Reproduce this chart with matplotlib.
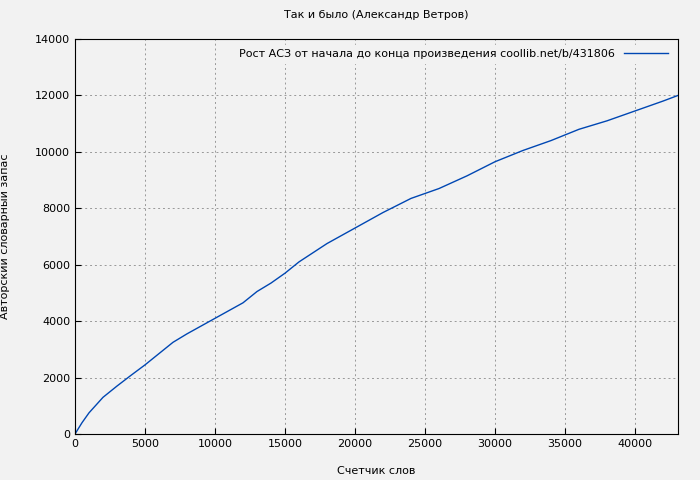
import matplotlib
matplotlib.use("Agg")
import matplotlib.pyplot as plt

words = [0, 500, 1000, 2000, 3000, 4000, 5000, 6000, 7000, 8000, 10000, 12000, 13000, 14000, 15000, 16000,
         18000, 20000, 22000, 24000, 26000, 28000, 30000, 32000, 34000, 36000, 38000, 40000, 42000, 43070]
vocab = [0, 400, 750, 1300, 1700, 2080, 2450, 2850, 3250, 3550, 4100, 4650, 5050, 5350, 5700, 6100,
         6750, 7300, 7850, 8350, 8700, 9150, 9650, 10050, 10400, 10800, 11100, 11450, 11800, 12000]

fig = plt.figure(figsize=(7, 4.8), dpi=100, facecolor="#f2f2f2")
ax = fig.add_axes([75/700, 1-434/480, (678-75)/700, (434-39)/480], facecolor="#f2f2f2")
ax.plot(words, vocab, color="#0047b3", lw=1,
        label="Рост АСЗ от начала до конца произведения coollib.net/b/431806")
ax.set_xlim(0, 43070)
ax.set_ylim(0, 14000)
ax.set_xticks(range(0, 45000, 5000))
ax.set_yticks(range(0, 14001, 2000))
ax.grid(True, color="#999999", ls=(0, (2, 3)), lw=0.7)
ax.tick_params(labelsize=8, direction="in", length=4)
ax.set_xlabel("Счетчик слов", fontsize=8, labelpad=12)
ax.set_ylabel("Авторский словарный запас", fontsize=8, labelpad=18)
ax.set_title("Так и было (Александр Ветров)", fontsize=8, pad=15)
leg = ax.legend(loc="upper right", fontsize=8, frameon=True, markerfirst=False, handlelength=4)
leg.get_frame().set_facecolor("#f2f2f2"); leg.get_frame().set_edgecolor("#f2f2f2")
leg.get_frame().set_alpha(1)
fig.savefig("out.png", dpi=100, facecolor="#f2f2f2")
